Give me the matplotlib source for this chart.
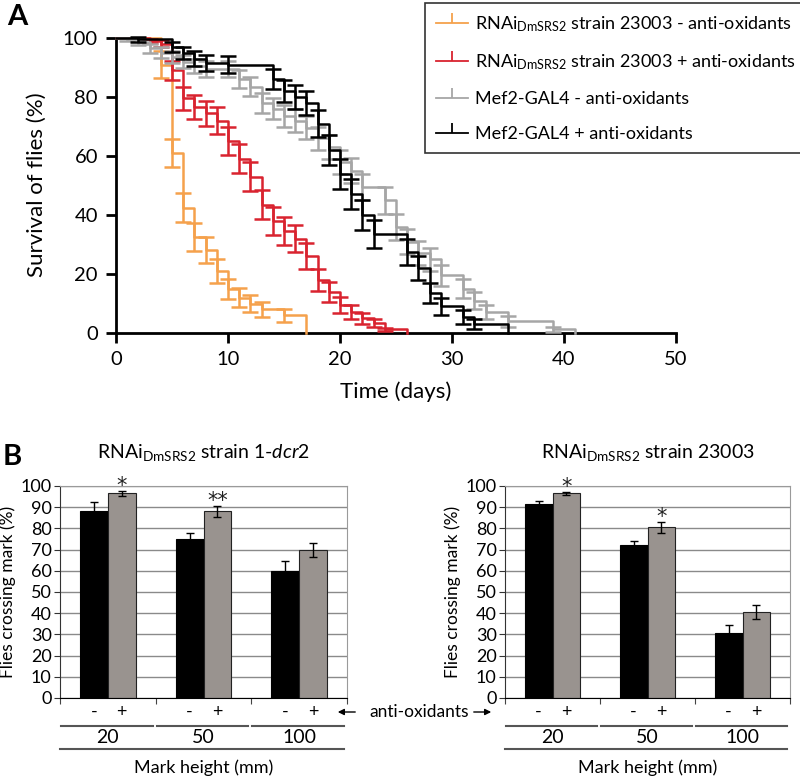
import matplotlib
matplotlib.use('Agg')
import matplotlib.pyplot as plt
import numpy as np
from matplotlib.lines import Line2D
from matplotlib.transforms import blended_transform_factory

plt.rcParams['font.family'] = ['Lato', 'DejaVu Sans']
plt.rcParams['mathtext.fontset'] = 'custom'
plt.rcParams['mathtext.rm'] = 'Lato'
plt.rcParams['mathtext.it'] = 'Lato:italic'

# ---- panel A: survival curves (day, % surviving, error) ----
orange_days = [0, 4, 5, 6, 7, 8, 9, 10, 11, 12, 13, 15, 17]
orange_surv = [100, 91, 61, 42.5, 32.5, 28, 21, 15, 12, 10, 8, 6, 0]
orange_err = [0, 4.5, 4.6, 4.8, 4.7, 4.4, 4.0, 3.4, 3.2, 3.0, 2.6, 2.3, 0]

red_days = [0, 3, 4, 5, 6, 7, 8, 9, 10, 11, 12, 13, 14, 15, 16, 17, 18, 19, 20, 21, 22, 23, 24, 26]
red_surv = [100, 99, 98, 89, 79.5, 76.5, 74.5, 72, 65, 59, 53, 43.5, 38, 34.5, 32, 26, 18, 14, 9.5, 7, 5, 3.5, 1.2, 0]
red_err = [0, 0.8, 1.2, 3.1, 4.0, 4.1, 4.3, 4.5, 4.7, 4.9, 5.0, 5.0, 4.8, 4.7, 4.6, 4.4, 3.8, 3.4, 2.8, 2.4, 1.8, 1.4, 0.6, 0]

gray_days = [0, 1, 2, 3, 4, 5, 6, 7, 8, 10, 11, 12, 13, 14, 15, 16, 17, 18, 19, 20, 21, 22, 24, 25, 26, 27, 28, 29, 31, 32, 33, 35, 39, 41]
gray_surv = [100, 99.5, 98.5, 96.5, 95, 93.5, 92, 90.5, 89.5, 89.5, 86, 83.5, 78, 76, 73.5, 72, 69.5, 66, 63, 58, 55, 49.5, 45, 36, 31, 27, 25, 19.5, 15, 11, 7, 4, 1.2, 0]
gray_err = [0, 0.5, 1, 1.5, 1.8, 2.0, 2.2, 2.5, 2.7, 2.7, 3.0, 3.2, 3.5, 3.6, 3.7, 3.8, 3.9, 4.0, 4.1, 4.2, 4.3, 4.3, 4.6, 4.5, 4.3, 4.1, 3.9, 3.6, 3.3, 2.9, 2.4, 1.8, 0.9, 0]

black_days = [0, 2, 5, 6, 7, 8, 10, 14, 15, 16, 17, 18, 19, 20, 21, 22, 23, 26, 27, 28, 29, 31, 32, 35]
black_surv = [100, 99.5, 97, 95, 93, 91.5, 91, 86, 82, 80, 78, 71, 62, 54, 47, 40, 33.5, 27.5, 22, 13.5, 9, 5.5, 3, 0]
black_err = [0, 0.8, 1.7, 2.0, 2.5, 2.8, 2.8, 3.4, 3.8, 4.0, 4.2, 4.6, 5.0, 5.1, 5.1, 5.0, 4.8, 4.5, 4.2, 3.4, 2.9, 2.3, 1.7, 0]

series_colors = ['#f5a14c', '#d9232f', '#a6a6a6', '#000000']
series_labels = [r'RNAi$_\mathrm{DmSRS2}$ strain 23003 - anti-oxidants',
                 r'RNAi$_\mathrm{DmSRS2}$ strain 23003 + anti-oxidants',
                 'Mef2-GAL4 - anti-oxidants',
                 'Mef2-GAL4 + anti-oxidants']

# ---- panel B: climbing assay ----
heights = ['20', '50', '100']
dcr2_minus = [88, 75, 60]
dcr2_minus_err = [4.5, 3.0, 4.5]
dcr2_plus = [96.5, 88, 70]
dcr2_plus_err = [1.0, 2.5, 3.3]
dcr2_stars = ['*', '**', '']

s23003_minus = [91.5, 72, 30.5]
s23003_minus_err = [1.5, 2.0, 4.0]
s23003_plus = [96.5, 80.5, 40.5]
s23003_plus_err = [0.8, 2.6, 3.2]
s23003_stars = ['*', '*', '']

W, H = 800, 780
fig = plt.figure(figsize=(W / 100, H / 100), dpi=100)


def fx(px):
    return px / W


def fy(py):
    return 1 - py / H


# ----------------- panel A -----------------
axA = fig.add_axes([fx(116), fy(333), fx(676) - fx(116), fy(38) - fy(333)])
curves = [(orange_days, orange_surv, orange_err),
          (red_days, red_surv, red_err),
          (gray_days, gray_surv, gray_err),
          (black_days, black_surv, black_err)]
for (d, s, e), c in zip(curves, series_colors):
    axA.step(d, s, where='post', color=c, lw=1.8, clip_on=False, zorder=3)
    axA.errorbar(d[1:-1], s[1:-1], yerr=e[1:-1], fmt='none', ecolor=c,
                 elinewidth=1.8, capsize=5.5, capthick=1.8, clip_on=False, zorder=3)

axA.set_xlim(0, 50)
axA.set_ylim(0, 100)
axA.set_xticks(range(0, 51, 10))
axA.set_yticks(range(0, 101, 20))
for side in ('top', 'right'):
    axA.spines[side].set_visible(False)
for side in ('left', 'bottom'):
    axA.spines[side].set_linewidth(2)
axA.tick_params(direction='out', length=7, width=2, labelsize=14.5, pad=6)

fig.text(fx(37), fy(185), 'Survival of flies (%)', rotation=90, fontsize=16,
         ha='center', va='center')
fig.text(fx(396), fy(392), 'Time (days)', fontsize=16, ha='center', va='center')
fig.text(fx(17), fy(17), 'A', fontsize=21, weight='bold', ha='center', va='center')

handles = [Line2D([0], [0], color=c, lw=1.3, marker=2, markersize=7,
                  markeredgewidth=1.3) for c in series_colors]
leg = fig.legend(handles, series_labels, loc='upper left',
                 bbox_to_anchor=(fx(425), fy(3)), bbox_transform=fig.transFigure,
                 fontsize=13, frameon=True, fancybox=False, edgecolor='black',
                 handlelength=1.8, handletextpad=0.35, labelspacing=1.05,
                 borderpad=0.6, borderaxespad=0, numpoints=1)
leg.get_frame().set_linewidth(1.2)

# ----------------- panel B -----------------
def bar_panel(ax, minus, minus_err, plus, plus_err, stars, title):
    x = np.arange(len(heights))
    bw = 0.29
    ax.bar(x - bw / 2, minus, bw, color='black', edgecolor='black', lw=0.8, zorder=2)
    ax.bar(x + bw / 2, plus, bw, color='#99938f', edgecolor='#222222', lw=0.8, zorder=2)
    ax.errorbar(x - bw / 2, minus, yerr=minus_err, fmt='none', ecolor='black',
                elinewidth=1, capsize=3, zorder=3)
    ax.errorbar(x + bw / 2, plus, yerr=plus_err, fmt='none', ecolor='black',
                elinewidth=1, capsize=3, zorder=3)
    for xi, v, e, st in zip(x, plus, plus_err, stars):
        if st:
            ax.text(xi + bw / 2, v + e - 0.5, st, ha='center', va='baseline',
                    fontsize=15, family='DejaVu Sans', color='#222222')

    ax.set_xlim(-0.5, 2.5)
    ax.set_ylim(0, 100)
    ax.set_yticks(range(0, 101, 10))
    ax.yaxis.grid(True, color='#8a8a8a', lw=1)
    ax.set_axisbelow(True)
    ax.spines['top'].set_color('#9a9a9a')
    ax.spines['right'].set_color('#9a9a9a')
    ax.spines['left'].set_color('#333333')
    ax.spines['bottom'].set_color('black')
    ax.set_xticks([-0.5, 0.5, 1.5, 2.5])
    ax.set_xticklabels([])
    ax.tick_params(axis='x', direction='out', length=4, color='#444444')
    ax.tick_params(axis='y', direction='out', length=4, labelsize=13, pad=2,
                   color='#333333')
    ax.set_ylabel('Flies crossing mark (%)', fontsize=12.5, labelpad=3)

    tr = blended_transform_factory(ax.transData, ax.transAxes)
    for xi, h in zip(x, heights):
        ax.text(xi - bw / 2, -0.066, '-', transform=tr, ha='center', va='center', fontsize=13)
        ax.text(xi + bw / 2, -0.066, '+', transform=tr, ha='center', va='center', fontsize=13)
        ax.plot([xi - 0.49, xi + 0.47], [-0.132, -0.132], transform=tr, clip_on=False,
                color='#555555', lw=1.5)
        ax.text(xi, -0.188, h, transform=tr, ha='center', va='center', fontsize=14)
    ax.plot([-0.5, 2.47], [-0.24, -0.24], transform=tr, clip_on=False,
            color='#555555', lw=1.5)
    ax.text(0.5, -0.33, 'Mark height (mm)', transform=ax.transAxes, ha='center',
            va='center', fontsize=13)
    ax.text(0.5, 1.16, title, transform=ax.transAxes, ha='center', va='center',
            fontsize=14)


axL = fig.add_axes([fx(60), fy(698), fx(347) - fx(60), fy(486) - fy(698)])
axR = fig.add_axes([fx(505), fy(698), fx(790) - fx(505), fy(486) - fy(698)])
bar_panel(axL, dcr2_minus, dcr2_minus_err, dcr2_plus, dcr2_plus_err, dcr2_stars,
          r'RNAi$_\mathrm{DmSRS2}$ strain 1-$\mathit{dcr2}$')
bar_panel(axR, s23003_minus, s23003_minus_err, s23003_plus, s23003_plus_err,
          s23003_stars, r'RNAi$_\mathrm{DmSRS2}$ strain 23003')

fig.text(fx(12), fy(457), 'B', fontsize=21, weight='bold', ha='center', va='center')
fig.text(fx(419), fy(712), 'anti-oxidants', fontsize=12.5, ha='center', va='center')
fig.add_artist(matplotlib.patches.FancyArrowPatch(
    (fx(358), fy(712)), (fx(335), fy(712)), transform=fig.transFigure,
    arrowstyle='-|>', mutation_scale=9, lw=1, color='black'))
fig.add_artist(matplotlib.patches.FancyArrowPatch(
    (fx(471), fy(712)), (fx(494), fy(712)), transform=fig.transFigure,
    arrowstyle='-|>', mutation_scale=9, lw=1, color='black'))

fig.savefig('out.png', dpi=100, facecolor='white')
